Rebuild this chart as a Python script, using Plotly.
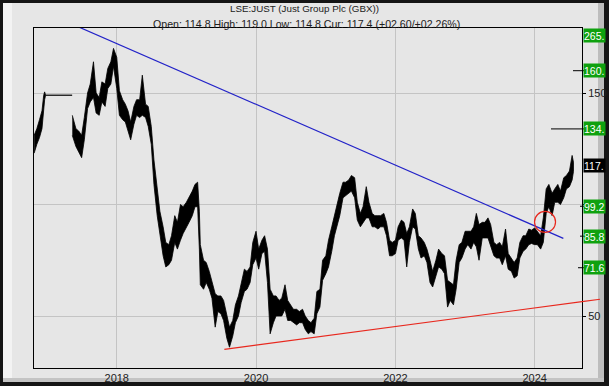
import plotly.graph_objects as go
from datetime import datetime

# ---------------- data ----------------
# early segment (ends with a flat stretch where no quotes were drawn)
early_dates = ["2016-10-25", "2016-11-08", "2016-11-22", "2016-12-05", "2016-12-14",
               "2016-12-19", "2016-12-24", "2017-05-12"]
early_low = [123, 127, 130, 134, 142, 147, 149, 149]
early_high = [131, 134, 138, 142, 149, 150.5, 149, 149]

dates = [
    "2017-05-13", "2017-06-01", "2017-06-15", "2017-07-01", "2017-07-15", "2017-08-01", "2017-08-15",
    "2017-09-01", "2017-09-15", "2017-10-01", "2017-10-15", "2017-11-01", "2017-11-15", "2017-12-01",
    "2017-12-15", "2018-01-01", "2018-01-15", "2018-02-01", "2018-02-15", "2018-03-01", "2018-03-15",
    "2018-04-01", "2018-04-15", "2018-05-01", "2018-05-15", "2018-06-01", "2018-06-15", "2018-07-01",
    "2018-07-15", "2018-08-01", "2018-08-15", "2018-09-01", "2018-09-15", "2018-10-01", "2018-10-15",
    "2018-11-01", "2018-11-15", "2018-12-01", "2018-12-15", "2019-01-01", "2019-01-15", "2019-02-01",
    "2019-02-15", "2019-03-01", "2019-03-10", "2019-03-15", "2019-04-01", "2019-04-15", "2019-05-01",
    "2019-05-15", "2019-06-01", "2019-06-15", "2019-07-01", "2019-07-15", "2019-08-01", "2019-08-15",
    "2019-09-01", "2019-09-15", "2019-10-01", "2019-10-15", "2019-11-01", "2019-11-15", "2019-12-01",
    "2019-12-15", "2020-01-01", "2020-01-15", "2020-02-01", "2020-02-15", "2020-03-01", "2020-03-15",
    "2020-04-01", "2020-04-15", "2020-05-01", "2020-05-15", "2020-06-01", "2020-06-15", "2020-07-01",
    "2020-07-15", "2020-08-01", "2020-08-15", "2020-09-01", "2020-09-15", "2020-10-01", "2020-10-15",
    "2020-11-01", "2020-11-15", "2020-12-01", "2020-12-15", "2021-01-01", "2021-01-15", "2021-02-01",
    "2021-02-15", "2021-03-01", "2021-03-15", "2021-04-01", "2021-04-15", "2021-05-01", "2021-05-15",
    "2021-06-01", "2021-06-15", "2021-07-01", "2021-07-15", "2021-08-01", "2021-08-15", "2021-09-01",
    "2021-09-15", "2021-10-01", "2021-10-15", "2021-11-01", "2021-11-15", "2021-12-01", "2021-12-15",
    "2022-01-01", "2022-01-15", "2022-02-01", "2022-02-15", "2022-03-01", "2022-03-15", "2022-04-01",
    "2022-04-15", "2022-05-01", "2022-05-15", "2022-06-01", "2022-06-15", "2022-07-01", "2022-07-15",
    "2022-08-01", "2022-08-15", "2022-09-01", "2022-09-15", "2022-10-01", "2022-10-15", "2022-11-01",
    "2022-11-15", "2022-12-01", "2022-12-15", "2023-01-01", "2023-01-15", "2023-02-01", "2023-02-15",
    "2023-03-01", "2023-03-15", "2023-04-01", "2023-04-15", "2023-05-01", "2023-05-15", "2023-06-01",
    "2023-06-15", "2023-07-01", "2023-07-15", "2023-08-01", "2023-08-15", "2023-09-01", "2023-09-15",
    "2023-10-01", "2023-10-15", "2023-11-01", "2023-11-15", "2023-12-01", "2023-12-15", "2024-01-01",
    "2024-01-15", "2024-02-01", "2024-02-15", "2024-03-01", "2024-03-15", "2024-04-01", "2024-04-15",
    "2024-05-01", "2024-05-15", "2024-06-01", "2024-06-15", "2024-07-01", "2024-07-15", "2024-07-22",
]
low = [
    131, 126, 124, 121, 129, 143, 146,
    148, 141, 140, 146, 144, 152, 154,
    162, 152, 140, 138, 137, 133, 129,
    136, 140, 139, 140, 139, 135, 127,
    109, 95, 87, 77, 72, 73, 75,
    83, 80, 84, 87, 90, 92, 95,
    99, 99, 80, 64, 62, 65, 62,
    58, 45, 52, 51, 48, 40, 36,
    41, 47, 50, 56, 61, 62, 65,
    73, 76, 71, 78, 79, 65, 42,
    47, 50, 50, 50, 53, 48, 48,
    47, 46, 47, 47, 44, 42, 43,
    42, 51, 54, 66, 69, 72, 79,
    86, 90, 95, 103, 104, 105, 106,
    103, 93, 90, 92, 94, 94, 90,
    90, 89, 90, 90, 86, 77, 77,
    78, 84, 85, 84, 72, 83, 90,
    89, 80, 76, 77, 74, 65, 63,
    68, 72, 71, 69, 54, 57, 55,
    62, 74, 76, 80, 82, 80, 83,
    81, 75, 85, 85, 85, 82, 77,
    76, 76, 73, 77, 71, 70, 67,
    68, 76, 79, 80, 82, 82.5, 82,
    82, 80, 83, 96, 99, 95, 101,
    101, 100, 103, 107, 108, 111, 114.8,
]
high = [
    140, 134, 133, 131, 139, 150, 154,
    164, 150, 148, 155, 154, 161, 164,
    170, 166, 151, 147, 145, 142, 137,
    144, 147, 147, 158, 145, 144, 135,
    120, 106, 97, 90, 83, 82, 86,
    95, 92, 100, 99, 101, 103, 106,
    109, 110, 97, 82, 75, 74, 70,
    66, 60, 59, 59, 57, 50, 45,
    48, 55, 59, 65, 71, 70, 72,
    83, 88, 80, 84, 86, 80, 62,
    59, 59, 57, 58, 64, 57, 55,
    53, 53, 52, 53, 50, 48, 47,
    49, 61, 62, 75, 77, 84, 90,
    95, 101, 105, 110, 110, 111, 113,
    112, 101, 96, 99, 108, 101, 96,
    95, 95, 95, 96, 92, 84, 83,
    84, 90, 93, 92, 87, 90, 98,
    96, 86, 85, 83, 80, 75, 70,
    75, 80, 78, 77, 66, 65, 64,
    75, 82, 83, 88, 88, 88, 90,
    96, 91, 92, 92, 94, 91, 83,
    82, 83, 81, 89, 78, 76, 74,
    76, 83, 86, 86, 89, 88.5, 89.5,
    88, 86, 94, 107, 109, 105, 107,
    109, 106, 112, 113, 115, 122, 119,
]

# trend lines and marker
blue_dates = ["2017-05-01", "2024-05-30"]
blue_vals = [181.3, 84.8]
red_dates = ["2019-07-19", "2024-12-08"]
red_vals = [35.07, 57.5]
circle_date = ["2024-02-24"]
circle_val = [92.2]

# right-hand level labels (only the part visible inside the frame)
level_vals = [160.0, 133.9, 99.22, 85.80, 71.65]
level_text = ["160.", "134.", "99.2", "85.8", "71.6"]
top_label = "265."
cur_val = 117.4
cur_text = "117."

title1 = "LSE:JUST (Just Group Plc (GBX))"
title2 = "Open: 114.8 High: 119.0 Low: 114.8 Cur: 117.4 (+02.60/+02.26%)"

# ---------------- layout geometry ----------------
W, H = 609, 386
ML, MR, MT, MB = 34, 27, 28, 18
PW, PH = W - ML - MR, H - MT - MB
X0 = datetime(2016, 10, 24, 5)
X1 = datetime(2024, 9, 4, 19)
Y0, Y1 = 26.68, 179.15


def pxp(p):  # page x pixel -> paper
    return (p - ML) / PW


def pyp(p):  # page y pixel -> paper
    return (H - MB - p) / PH


def date_paper(d):
    d = datetime.fromisoformat(d)
    return (d - X0) / (X1 - X0)


def val_paper(v):
    return (v - Y0) / (Y1 - Y0)


FONT = "Liberation Sans, Arial, sans-serif"
GREEN = "#0fa10f"

fig = go.Figure()


def band(ds, lo, hi):
    xs = list(ds) + list(reversed(ds))
    ys = list(hi) + list(reversed(lo))
    fig.add_trace(go.Scatter(x=xs, y=ys, mode="lines", fill="toself", fillcolor="black",
                             line=dict(color="black", width=0.8), hoverinfo="skip", showlegend=False))


band(early_dates, early_low, early_high)
band(dates, low, high)

fig.add_trace(go.Scatter(x=blue_dates, y=blue_vals, mode="lines",
                         line=dict(color="#2323c8", width=1.2), showlegend=False, hoverinfo="skip"))
fig.add_trace(go.Scatter(x=red_dates, y=red_vals, mode="lines",
                         line=dict(color="#e8281e", width=1.2), showlegend=False, hoverinfo="skip"))
fig.add_trace(go.Scatter(x=circle_date, y=circle_val, mode="markers",
                         marker=dict(symbol="circle-open", size=21, color="#e8281e", line=dict(width=1.2)),
                         showlegend=False, hoverinfo="skip"))

shapes = []
# frame
shapes.append(dict(type="rect", xref="paper", yref="paper", x0=pxp(3), x1=pxp(604), y0=pyp(382), y1=pyp(3),
                   fillcolor="#e6e6e6", line=dict(width=0), layer="below"))
shapes.append(dict(type="rect", xref="paper", yref="paper", x0=pxp(3), x1=pxp(12), y0=pyp(382), y1=pyp(3),
                   fillcolor="#f3f3f3", line=dict(width=0), layer="below"))
shapes.append(dict(type="rect", xref="paper", yref="paper", x0=pxp(598), x1=pxp(604), y0=pyp(382), y1=pyp(3),
                   fillcolor="#bdbdbd", line=dict(width=0), layer="below"))
shapes.append(dict(type="rect", xref="paper", yref="paper", x0=pxp(3), x1=pxp(604), y0=pyp(382), y1=pyp(378),
                   fillcolor="#c4c4c4", line=dict(width=0), layer="below"))

# red trend line continuing past the plot edge
r_end_x = date_paper(red_dates[1])
r_start_x = date_paper(red_dates[0])
slope = (val_paper(red_vals[1]) - val_paper(red_vals[0])) / (r_end_x - r_start_x)
y_at_edge = val_paper(red_vals[0]) + slope * (1 - r_start_x)
shapes.append(dict(type="line", xref="paper", yref="paper", x0=1, x1=r_end_x,
                   y0=y_at_edge, y1=val_paper(red_vals[1]), line=dict(color="#e8281e", width=1.2), layer="above"))

# level marks
level_starts = [573, 551, 580, 580, 578]
for v, s in zip(level_vals, level_starts):
    shapes.append(dict(type="line", xref="paper", yref="y", x0=pxp(s), x1=pxp(586), y0=v, y1=v,
                       line=dict(color="black", width=1), layer="above"))

annotations = []
annotations.append(dict(text=title1, xref="paper", yref="paper", x=pxp(304), y=pyp(9), showarrow=False,
                        xanchor="center", yanchor="middle", font=dict(family=FONT, size=9.8, color="#222")))
annotations.append(dict(text=title2, xref="paper", yref="paper", x=pxp(306), y=pyp(24), showarrow=False,
                        xanchor="center", yanchor="middle", font=dict(family=FONT, size=10.6, color="#222")))


def label(text, y, yref, bg, yanchor="middle"):
    annotations.append(dict(text=text, xref="paper", yref=yref, x=1, y=y, xshift=1, showarrow=False,
                            xanchor="left", yanchor=yanchor, align="left", width=21, height=13, borderpad=0,
                            bgcolor=bg, font=dict(family=FONT, size=10.5, color="white")))


label(top_label, 1, "paper", GREEN, "top")
for v, t in zip(level_vals, level_text):
    label(t, v, "y", GREEN)
label(cur_text, cur_val, "y", "black")

fig.update_layout(
    width=W, height=H,
    margin=dict(l=ML, r=MR, t=MT, b=MB, pad=0, autoexpand=False),
    paper_bgcolor="#151515",
    plot_bgcolor="white",
    shapes=shapes,
    annotations=annotations,
    hovermode=False,
    showlegend=False,
    xaxis=dict(type="date", range=[X0, X1], tick0="2018-01-01", dtick="M24", tickformat="%Y",
               showgrid=True, gridcolor="#c4c4c4", gridwidth=1, showline=True, linecolor="black",
               linewidth=1, mirror=True, ticks="", zeroline=False, automargin=False,
               tickfont=dict(family=FONT, size=11, color="#222")),
    yaxis=dict(range=[Y0, Y1], side="right", tickvals=[50, 100, 150], ticktext=["50", "", "150"],
               showgrid=True, gridcolor="#c4c4c4", gridwidth=1, showline=True, linecolor="black",
               linewidth=1, mirror=True, ticks="outside", ticklen=3, tickcolor="black", zeroline=False,
               automargin=False, tickfont=dict(family=FONT, size=11, color="#222")),
)

fig.write_html("out.html")
